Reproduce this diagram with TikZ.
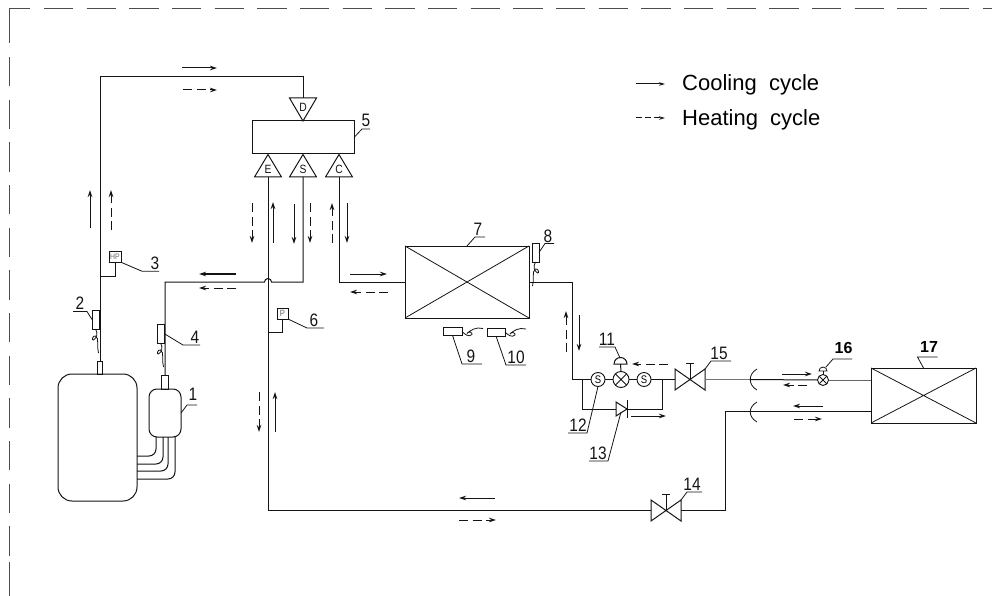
\documentclass[tikz,border=0pt]{standalone}
\usepackage{fontspec}
\setmainfont{Liberation Sans}
\newfontfamily\numfont[FakeStretch=0.86]{Liberation Sans}
\usetikzlibrary{arrows.meta}
\definecolor{ink}{gray}{0.08}
\tikzset{
  pipe/.style={line width=1pt,draw=ink},
  thin line/.style={line width=0.8pt,draw=ink},
  boxnode/.style={draw=ink,line width=1pt,inner sep=0pt,outer sep=0pt,rectangle},
  circnode/.style={draw=ink,line width=0.9pt,inner sep=0pt,outer sep=0pt,circle},
  lab/.style={anchor=base,inner sep=0pt,font=\numfont\fontsize{18}{18}\selectfont,text=ink},
  boldlab/.style={anchor=base,inner sep=0pt,font=\bfseries\fontsize{16}{16}\selectfont,text=black},
  letter/.style={inner sep=0pt,font=\numfont\fontsize{12}{12}\selectfont,text=ink},
  flow/.style={line width=1pt,draw=ink,-{Stealth[length=7pt,width=4.5pt]}},
  flowd/.style={flow,dash pattern=on 9pt off 4.5pt},
  border/.style={line width=1pt,draw=black!70},
  pics/gatevalve/.style={code={
    \draw[pipe] (-15,-10.5)--(15,10.5)--(15,-10.5)--(-15,10.5)--cycle;
    \draw[thin line] (0,0)--(0,-16) (-4,-16)--(4,-16);
    \coordinate (-l) at (-15,0);
    \coordinate (-r) at (15,0);
    \coordinate (-ul) at (15,-10.5);
  }},
  pics/triup/.style={code={
    \draw[pipe] (-13.5,0)--(13.5,0)--(0,-22.5)--cycle;
    \node[letter] (-t) at (0,-7.5) {#1};
    \coordinate (-b) at (0,0);
  }},
  pics/tridown/.style={code={
    \draw[pipe] (-13.5,0)--(13.5,0)--(0,23)--cycle;
    \node[letter] (-t) at (0,9) {#1};
    \coordinate (-b) at (0,0);
  }},
  pics/curlv/.style={code={
    \draw[thin line] (0,0) .. controls (3,5) and (1,9) .. (-2,11) .. controls (-4,12) and (-3,6) .. (0,7) .. controls (4,9) and (1,18) .. (3,24);
  }},
  pics/curlh/.style={code={
    \draw[thin line] (0,0) .. controls (3,3) and (7,6) .. (10,3) .. controls (11,1) and (6,-1) .. (5,2) .. controls (8,-1) and (14,-5) .. (21,-3);
  }}
}
\begin{document}
\begin{tikzpicture}[x=1pt,y=-1pt,line join=miter]
\useasboundingbox (0,0) rectangle (992,596);
% frame
\coordinate (fc) at (9.5,8.5);
\coordinate (ftl) at (30,8.5);
\coordinate (flt) at (9.5,43);
\coordinate (ftstart) at (44,8.5);
\coordinate (ftend) at (992,8.5);
\coordinate (flstart) at (9.5,57);
\coordinate (flend) at (9.5,556);
\coordinate (fba) at (9.5,562);
\coordinate (fbb) at (9.5,596);
\draw[border] (ftl)--(fc)--(flt);
\draw[border,dash pattern=on 29.3pt off 13.37pt] (ftstart)--(ftend);
\draw[border,dash pattern=on 29.3pt off 13.37pt] (flstart)--(flend);
\draw[border] (fba)--(fbb);

% main units
\node[boxnode,rounded corners=14pt,minimum width=79pt,minimum height=127pt] (comp) at (97.5,437.5) {};
\node[boxnode,rounded corners=8pt,minimum width=32pt,minimum height=48pt] (accum) at (165,413) {};
\node[boxnode,minimum width=5.5pt,minimum height=13pt] (conn2) at (100,367.5) {};
\node[boxnode,minimum width=7pt,minimum height=14pt] (conn4) at (165,382) {};
\node[boxnode,minimum width=102pt,minimum height=33pt] (box5) at (303,137.5) {};
\node[boxnode,minimum width=124pt,minimum height=72pt] (box7) at (467,282) {};
\node[boxnode,minimum width=105pt,minimum height=55pt] (box17) at (923.5,395.5) {};
\draw[thin line] (box7.north west)--(box7.south east) (box7.north east)--(box7.south west);
\draw[thin line] (box17.north west)--(box17.south east) (box17.north east)--(box17.south west);

% compressor to accumulator
\foreach \dx/\dy in {-9/18.5,-2/26.5,3/33.5,10/41.5}{
  \draw[pipe,rounded corners=7pt] ([xshift=\dx pt]accum.south) |- ([yshift=-\dy pt]comp.east);
}

% triangles
\pic (tD) at (303,98) {tridown=D};
\pic (tE) at (268,177) {triup=E};
\pic (tS) at (303,177) {triup=S};
\pic (tC) at (339,177) {triup=C};

% valves
\pic (v15) at (690,379.5) {gatevalve};
\pic (v14) at (666,510.5) {gatevalve};
\node[circnode,minimum size=14pt,font=\numfont\fontsize{11}{11}\selectfont] (s1) at (598,379.5) {S};
\node[circnode,minimum size=14pt,font=\numfont\fontsize{11}{11}\selectfont] (s2) at (644,379.5) {S};
\node[circnode,minimum size=16pt] (ev) at (621,379.5) {};
\draw[thin line] (ev.north west)--(ev.south east) (ev.north east)--(ev.south west);
\node[circnode,minimum size=11pt] (ev16) at (823,380) {};
\draw[thin line] (ev16.north west)--(ev16.south east) (ev16.north east)--(ev16.south west);

% domes
\coordinate (d11) at (620.5,364);
\draw[pipe] (ev.north)--(d11);
\draw[pipe] (614,364) arc (-180:0:6.5) --cycle;
\coordinate (d16) at (823,371);
\draw[thin line] (ev16.north)--(d16);
\draw[thin line] (819,371) arc (-180:0:4) --cycle;

% sensors
\node[boxnode,minimum width=7pt,minimum height=19pt] (sen2) at (95.5,319.5) {};
\node[boxnode,minimum width=7pt,minimum height=19pt] (sen4) at (160.5,333.5) {};
\node[boxnode,minimum width=7pt,minimum height=19pt] (sen8) at (535.5,252.5) {};
\node[boxnode,minimum width=19pt,minimum height=7.5pt] (sen9) at (452.5,331.5) {};
\node[boxnode,minimum width=18pt,minimum height=8pt] (sen10) at (496,332) {};
\pic at (sen2.south) {curlv};
\pic at (sen4.south) {curlv};
\pic[xscale=-1] at (sen8.south) {curlv};
\pic at (sen9.east) {curlh};
\pic at (sen10.east) {curlh};

% pressure switches
\node[boxnode,line width=0.7pt,minimum width=12pt,minimum height=10.5pt,font=\numfont\fontsize{8}{8}\selectfont,text=black!60] (hp) at (115,257) {HP};
\node[boxnode,line width=0.7pt,minimum width=11pt,minimum height=11pt,font=\numfont\fontsize{9}{9}\selectfont,text=black!60] (lp) at (282.5,313.5) {P};

% pipes
\coordinate (topleft) at (100,77);
\coordinate (hpj) at (100,276);
\coordinate (lpj) at (268,332);
\coordinate (hopr) at (271.5,282);
\coordinate (sj) at (303,282);
\coordinate (aj) at (165,282);
\coordinate (cj) at (339,282);
\coordinate (ebot) at (268,510.5);
\coordinate (rdown) at (572,282);
\coordinate (rcorner) at (572,379.5);
\coordinate (bpa) at (582,379.5);
\coordinate (bpb) at (582,409);
\coordinate (bpc) at (662,409);
\coordinate (bpd) at (662,379.5);
\coordinate (chkin) at (616,409);
\coordinate (chkout) at (627,409);
\coordinate (lowr) at (871,411.5);
\coordinate (lowc) at (725,411.5);
\coordinate (lowd) at (725,510.5);
\draw[pipe] (conn2.north)--(topleft)-|(tD-b);
\draw[pipe] (tE-b)--(ebot)--(v14-l);
\draw[pipe] (tS-b)--(sj)--(hopr) arc (0:-180:3.5) --(aj)--(conn4.north);
\draw[pipe] (tC-b)--(cj)--(box7.west);
\draw[pipe] (hp.south)|-(hpj);
\draw[pipe] (lp.south)|-(lpj);
\draw[pipe] (box7.east)--(rdown)--(rcorner)--(s1.west);
\draw[pipe] (s1.east)--(ev.west) (ev.east)--(s2.west) (s2.east)--(v15-l);
\draw[pipe] (bpa)--(bpb)--(chkin);
\draw[pipe] (chkout)--(bpc)--(bpd);
\draw[pipe] (616,402)--(616,416)--(chkout)--cycle;
\draw[pipe] (627,400)--(627,418);
\draw[pipe,draw=black!55] (v15-r)--(750,379.5);
\draw[pipe] (750,379.5)--(ev16.west);
\draw[pipe,draw=black!60] (ev16.east)--(box17.west|-ev16.east);
\draw[pipe] (lowr)--(lowc)--(lowd)--(v14-r);
\coordinate (brk1) at (757,369);
\coordinate (brk2) at (757,402);
\draw[thin line] (brk1) .. controls (748,374) and (748,385) .. (757,390);
\draw[thin line] (brk2) .. controls (748,407) and (748,417) .. (757,422);

% leaders and labels
\draw[thin line] (accum.east)--++(6,-8)--++(10,0);
\node[lab] (n1) at (193,400) {1};
\draw[thin line] (sen2.west)--++(-5,-8)--++(-14,0);
\node[lab] (n2) at (80,309) {2};
\draw[thin line] (hp.south east)--++(21,9)--++(17,0);
\node[lab] (n3) at (155,269) {3};
\draw[thin line] (sen4.east)--++(19,11.5)--++(17,0);
\node[lab] (n4) at (195,343) {4};
\draw[thin line] (box5.east)--++(8,-8.5)--++(8,0);
\node[lab] (n5) at (366,127) {5};
\draw[thin line] (lp.south east)--++(19,9)--++(17,0);
\node[lab] (n6) at (314,326) {6};
\draw[thin line] (box7.north)--++(8,-9)--++(10,0);
\node[lab] (n7) at (478,235) {7};
\draw[thin line] (sen8.east)--++(6,-9)--++(9,0);
\node[lab] (n8) at (548,242) {8};
\draw[thin line] (sen9.south)--(462,364)--(482,364);
\node[lab] (n9) at (471,362) {9};
\draw[thin line] (sen10.south)--(506,365)--(526,365);
\node[lab] (n10) at (516,363) {10};
\draw[thin line] (620,358)--(615,347)--(599,347);
\node[lab] (n11) at (607,345) {11};
\draw[thin line] (s1.south)--(587,433)--(568,433);
\node[lab] (n12) at (578,431) {12};
\coordinate (lead13) at (621,412);
\draw[thin line] (lead13)--(608,461)--(589,461);
\node[lab] (n13) at (598,459) {13};
\draw[thin line] (v14-ul)--++(6,-8)--++(15,0);
\draw[thin line] (v15-ul)--++(6,-8)--++(20,0);
\node[lab] (n14) at (692,490) {14};
\node[lab] (n15) at (719,359) {15};
\draw[thin line] (826,367)--(833,359)--(852,359);
\node[boldlab] (n16) at (843.5,353) {16};
\draw[thin line] (box17.north)--++(-6,-11)--++(20,0);
\node[boldlab] (n17) at (929,352) {17};

% flow arrows
\draw[flow] (182,68)--(217,68);
\draw[flowd] (183,90)--(217,90);
\draw[flow] (90,228)--(90,190);
\draw[flowd] (111,230)--(111,190);
\draw[flowd] (252,203)--(252,243);
\draw[flow] (273,243)--(273,202);
\draw[flow] (294,204)--(294,244);
\draw[flowd] (310,203)--(310,243);
\draw[flowd] (332,243)--(332,203);
\draw[flow] (347,203)--(347,243);
\draw[flow,line width=1.6pt] (236,274)--(199,274);
\draw[flowd] (236,288)--(199,288);
\draw[flow] (350,274)--(387,274);
\draw[flowd] (388,292)--(350,292);
\draw[flowd] (259,392)--(259,432);
\draw[flow] (275,432)--(275,392);
\draw[flowd] (566,352)--(566,311);
\draw[flow] (579,315)--(579,351);
\draw[flowd] (668,364)--(632,364);
\draw[flow] (631,416)--(666,416);
\draw[flow] (782,374)--(812,374);
\draw[flowd] (807,385)--(783,385);
\draw[flow] (823,406)--(793,406);
\draw[flowd] (794,419)--(822,419);
\draw[flow] (495,498)--(459,498);
\draw[flowd] (459,520)--(496,520);

% legend
\coordinate (lega) at (636,84);
\coordinate (legb) at (665,84);
\coordinate (legc) at (636,118);
\coordinate (legd) at (665,118);
\draw[flow,-{Stealth[length=6pt,width=3.5pt]}] (lega)--(legb);
\draw[flow,dash pattern=on 6pt off 3pt,-{Stealth[length=6pt,width=3.5pt]}] (legc)--(legd);
\node[anchor=base west,inner sep=0pt,font=\fontsize{22}{22}\selectfont] (lcool) at (682,91) {Cooling\ \ cycle};
\node[anchor=base west,inner sep=0pt,font=\fontsize{22}{22}\selectfont] (lheat) at (682,126) {Heating\ \ cycle};
\end{tikzpicture}
\end{document}
